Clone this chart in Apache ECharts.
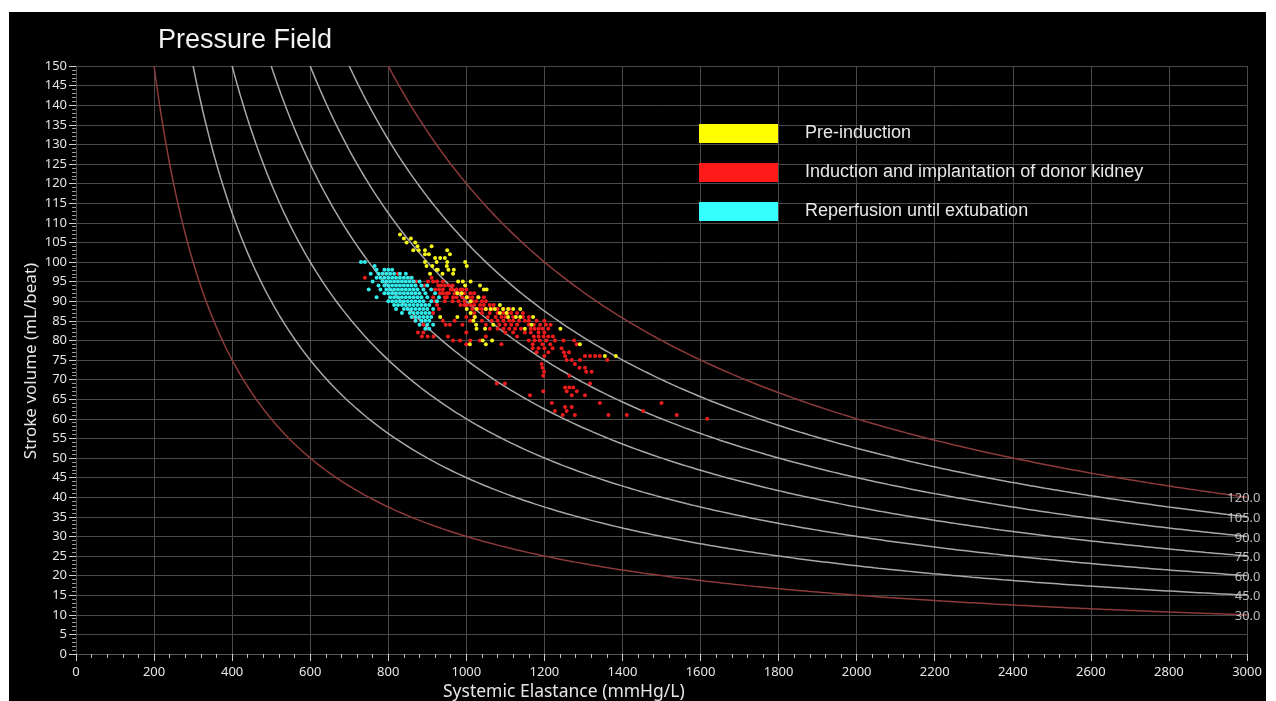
<!DOCTYPE html>
<html>
<head>
<meta charset="utf-8">
<script src="https://cdn.jsdelivr.net/npm/echarts@6/dist/echarts.min.js"></script>
<style>
  html, body { margin:0; padding:0; background:#ffffff; width:1276px; height:701px; overflow:hidden; }
  #chart { position:absolute; left:9px; top:12px; width:1257px; height:689px; background:#000; }
</style>
</head>
<body>
<div id="chart"></div>
<script>
// ---------- DATA ----------
const titleText = 'Pressure Field';
const xAxisTitle = 'Systemic Elastance (mmHg/L)';
const yAxisTitle = 'Stroke volume (mL/beat)';
const seriesNames = ['Pre-induction', 'Induction and implantation of donor kidney', 'Reperfusion until extubation'];
const pressureLevels = [30, 45, 60, 75, 90, 105, 120]; // isobars (mmHg) = E * SV / 1000

// [Systemic elastance, Stroke volume]
const preInduction = [
  [830,107],[840,106],[847,105],[858,106],[869,105],[875,104],[864,103],[878,103],[894,103],[911,104],
  [894,102],[904,102],[920,101],[933,101],[945,101],[951,100],[958,102],[951,103],[894,100],[924,100],
  [913,99],[898,99],[950,99],[927,98],[939,97],[968,98],[1001,99],[997,100],[907,97],[924,98],
  [954,98],[966,97],[979,95],[991,95],[997,94],[1011,95],[1035,94],[1045,93],[1052,93],[977,92],
  [988,92],[1001,91],[1011,90],[1031,91],[1001,88],[1026,88],[1050,88],[1062,88],[1073,88],[1086,89],
  [1094,88],[1107,88],[1120,88],[1138,88],[1086,87],[1103,87],[1127,86],[1107,86],[1138,86],[1011,87],
  [1022,86],[1018,85],[1025,84],[1026,83],[1048,83],[1069,84],[977,86],[933,86],[1171,86],[1150,83],
  [1167,84],[1241,83],[1291,79],[1355,76],[1383,76],[1042,80],[1050,79],[1009,79],[1066,80]
];

const induction = [
  [740,96],[786,97],[825,97],[858,96],[871,95],[902,95],[894,94],[911,96],[928,94],[940,93],
  [933,92],[950,92],[966,91],[915,91],[920,90],[945,90],
  [935,94],[955,94],[965,93],[985,93],[1000,93],[955,92],[980,92],[1010,92],[1020,92],
  [975,91],[990,91],[1015,91],[1030,91],[980,90],[995,90],[1025,90],[1040,90],
  [985,89],[1000,89],[1020,89],[1035,89],[1060,89],[1030,88],[1040,88],[1080,88],
  [1040,87],[1060,87],[1115,87],[1130,87],[1000,86],[1055,86],[1075,86],[1090,86],[1145,86],
  [940,85],[970,85],[1010,85],[1040,85],[1065,85],[1080,85],[1095,85],[1120,85],[1135,85],[1160,85],[1180,85],
  [958,84],[990,84],[1050,84],[1085,84],[1100,84],[1130,84],[1173,84],[1189,84],[1204,84],[1216,84],
  [1060,83],[1080,83],[1095,83],[1110,83],[1140,83],[1175,83],[1195,83],[1210,83],
  [876,82],[890,82],[1000,82],[1100,82],[1120,82],[1150,82],[1165,82],[1185,82],[1200,82],
  [886,81],[901,81],[916,81],[953,81],[1050,81],[1130,81],[1173,81],[1185,81],[1198,81],[1210,81],[1222,81],
  [966,80],[984,80],[1010,80],[1035,80],[1160,80],[1175,80],[1188,80],[1205,80],[1227,80],[1249,80],[1276,80],
  [1000,79],[1090,79],[1170,79],[1195,79],[1215,79],[1283,79],
  [1170,78],[1185,78],[1200,78],[1221,78],[1244,78],
  [1180,77],[1210,77],[1250,77],[1263,77],
  [1200,76],[1253,76],[1304,76],[1317,76],[1330,76],[1342,76],
  [1257,75],[1270,75],[1291,75],[1361,75],
  [1193,74],[1278,74],[1195,73],[1290,73],[1304,73],[1199,72],[1307,72],[1321,72],
  [1197,71],[1264,71],[1078,69],[1099,69],[1317,69],[1253,68],[1264,68],[1274,68],
  [1197,67],[1257,67],[1283,67],[1163,66],[1270,66],[1304,66],
  [1219,64],[1342,64],[1500,64],[1253,63],[1270,63],[1227,62],[1257,62],[1453,62],
  [1247,61],[1278,61],[1364,61],[1411,61],[1539,61],[1617,60],
  [864,86],[869,85],[947,84],[890,84],[898,83],
  [915,95],[925,95],[940,95],[945,94],[965,94],[930,93],[960,93],[975,93],[990,93],
  [940,92],[970,92],[995,92],[945,91],[950,91],[1005,91],[1045,91],[965,90],[1015,90],[1050,90],
  [995,89],[1010,89],[1045,89],[1070,89],[1015,88],[1050,88],[1065,88],[1095,88],[1110,88],
  [1020,87],[1080,87],[1095,87],[1105,87],[1145,87],[1020,86],[1100,86],[1120,86],[1160,86],
  [1110,85],[1150,85],[1200,85],[1115,84],[1160,84],[1125,83],[1165,83],[1185,83],
  [920,93],[925,89],[915,87],[930,88]
];

const reperfusion = [
  [730,100],[740,100],[765,99],
  [770,98],[790,98],[800,98],[810,98],
  [755,97],[775,97],[785,97],[795,97],[805,97],[815,97],[830,97],[845,97],
  [770,96],[780,96],[790,96],[800,96],[810,96],[820,96],[830,96],[840,96],[850,96],[860,96],
  [760,95],[785,95],[795,95],[805,95],[815,95],[825,95],[835,95],[845,95],[855,95],[865,95],[880,95],
  [775,94],[790,94],[800,94],[810,94],[820,94],[830,94],[840,94],[850,94],[860,94],[870,94],[885,94],[900,94],
  [750,93],[780,93],[795,93],[805,93],[815,93],[825,93],[835,93],[845,93],[855,93],[865,93],[875,93],[890,93],[910,93],
  [790,92],[800,92],[810,92],[820,92],[830,92],[840,92],[850,92],[860,92],[870,92],[880,92],[895,92],[920,92],
  [770,91],[805,91],[815,91],[825,91],[835,91],[845,91],[855,91],[865,91],[875,91],[885,91],[900,91],[930,91],
  [800,90],[810,90],[820,90],[830,90],[840,90],[850,90],[860,90],[870,90],[880,90],[890,90],[910,90],[925,90],
  [815,89],[825,89],[835,89],[845,89],[855,89],[865,89],[875,89],[885,89],[895,89],[905,89],
  [820,88],[840,88],[850,88],[860,88],[870,88],[880,88],[890,88],[900,88],[915,88],
  [835,87],[855,87],[865,87],[875,87],[885,87],[895,87],[905,87],
  [860,86],[870,86],[880,86],[890,86],[900,86],[910,86],
  [870,85],[885,85],[895,85],[905,85],[880,84],[900,84],[915,84],[895,83],[905,83]
];

// ---------- CHART ----------
const chart = echarts.init(document.getElementById('chart'), null, { renderer: 'canvas' });
const X_MAX = 3000, Y_MAX = 150;
const numFont = '"Noto Sans", "Open Sans", sans-serif';
const txtFont = '"Liberation Sans", Arial, sans-serif';
const legendColors = ['#ffff00', '#ff1a1a', '#33ffff'];
const dotColors = ['#f5f51a', '#f01c1c', '#30ecec'];

function isobar(p) {
  const pts = [];
  const eStart = p * 1000 / Y_MAX;
  for (let e = eStart; e < X_MAX; e += 5) pts.push([e, p * 1000 / e]);
  pts.push([X_MAX, p * 1000 / X_MAX]);
  return pts;
}

const curveSeries = pressureLevels.map((p, i) => {
  const edge = (i === 0 || i === pressureLevels.length - 1);
  return {
    type: 'line', name: 'P' + p, data: isobar(p), showSymbol: false, symbol: 'none',
    silent: true, z: 1, clip: true,
    lineStyle: { color: edge ? '#8c3a3a' : '#a8a8a8', width: 1.5 },
    legendHoverLink: false
  };
});

const labelSeries = {
  type: 'scatter', name: 'isobarLabels', silent: true, z: 6,
  symbolSize: 1, itemStyle: { color: 'rgba(0,0,0,0)' },
  data: pressureLevels.map(p => [X_MAX, p * 1000 / X_MAX]),
  label: {
    show: true, position: [14, 2], align: 'right', verticalAlign: 'middle',
    color: '#e2e2e2', fontSize: 13, fontFamily: numFont,
    formatter: (d) => pressureLevels[d.dataIndex].toFixed(1)
  }
};

const dotSize = 4;
const option = {
  backgroundColor: '#000000',
  animation: false,
  title: {
    text: titleText, left: 144, top: 10,
    textStyle: { color: '#f2f2f2', fontSize: 27, fontWeight: 'normal', fontFamily: txtFont }
  },
  legend: {
    data: seriesNames.map((n, i) => ({ name: n, itemStyle: { color: legendColors[i], opacity: 1 } })),
    orient: 'vertical', left: 690, top: 112,
    itemWidth: 79, itemHeight: 19, itemGap: 20, icon: 'rect', selectedMode: false,
    padding: 0,
    itemStyle: { opacity: 1, borderWidth: 0 },
    textStyle: { color: '#e8e8e8', fontSize: 18, fontFamily: txtFont, padding: [0, 0, 0, 22] }
  },
  grid: { left: 67, right: 19, top: 54, bottom: 47, containLabel: false },
  xAxis: {
    type: 'value', min: 0, max: X_MAX, interval: 200,
    axisLine: { show: true, lineStyle: { color: '#555' } },
    axisTick: { show: true, length: 7, lineStyle: { color: '#cfcfcf' } },
    minorTick: { show: true, splitNumber: 5, length: 4, lineStyle: { color: '#bdbdbd' } },
    axisLabel: { color: '#e6e6e6', fontSize: 13, fontFamily: numFont, margin: 12, formatter: (v) => String(v) },
    splitLine: { show: true, lineStyle: { color: '#4a4a4a', width: 1 } }
  },
  yAxis: {
    type: 'value', min: 0, max: Y_MAX, interval: 5,
    axisLine: { show: false },
    axisTick: { show: true, length: 7, lineStyle: { color: '#cfcfcf' } },
    minorTick: { show: true, splitNumber: 5, length: 4, lineStyle: { color: '#9a9a9a' } },
    axisLabel: { color: '#e6e6e6', fontSize: 13, fontFamily: numFont, margin: 9, formatter: (v) => String(v) },
    splitLine: { show: true, lineStyle: { color: '#4a4a4a', width: 1 } }
  },
  graphic: [
    {
      type: 'text', left: 434, top: 671, silent: true,
      style: { text: xAxisTitle, fill: '#e6e6e6', font: '17.5px ' + numFont }
    },
    {
      type: 'text', x: 22, y: 349, rotation: Math.PI / 2, silent: true,
      style: { text: yAxisTitle, fill: '#e6e6e6', font: '17px ' + numFont, align: 'center', verticalAlign: 'middle' }
    }
  ],
  series: [
    ...curveSeries,
    {
      type: 'scatter', name: seriesNames[0], data: preInduction, symbolSize: dotSize, z: 5,
      itemStyle: { color: dotColors[0], opacity: 1 }
    },
    {
      type: 'scatter', name: seriesNames[1], data: induction, symbolSize: dotSize, z: 3,
      itemStyle: { color: dotColors[1], opacity: 1 }
    },
    {
      type: 'scatter', name: seriesNames[2], data: reperfusion, symbolSize: dotSize, z: 4,
      itemStyle: { color: dotColors[2], opacity: 1 }
    },
    labelSeries
  ]
};
chart.setOption(option);
</script>
</body>
</html>
